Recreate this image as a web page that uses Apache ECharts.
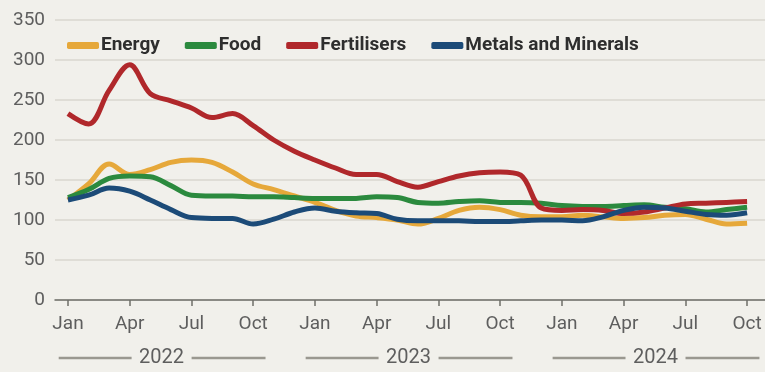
<!DOCTYPE html>
<html><head><meta charset="utf-8">
<script src="https://cdn.jsdelivr.net/npm/echarts@6/dist/echarts.min.js"></script>
<style>html,body{margin:0;padding:0;background:#f1f0eb}#c{width:765px;height:372px}</style>
</head><body><div id="c"></div>
<script>
// Months from Jan 2022 (index 0) to Oct 2024 (index 33)
const monthIndex = Array.from({length: 34}, (_, i) => i);
const tickMonths = [0,3,6,9,12,15,18,21,24,27,30,33];
const tickLabels = ['Jan','Apr','Jul','Oct','Jan','Apr','Jul','Oct','Jan','Apr','Jul','Oct'];
const years = ['2022','2023','2024'];
const yearStartMonth = [0,12,24];

const energy = [125,145,170,157,163,172,175,172,160,145,138,130,
                122,112,105,103,100,95,102,112,116,113,106,104,
                104,106,104,102,103,106,107,101,95,96];
const food = [128,138,152,155,154,143,131,130,130,129,129,128,
              127,127,127,129,128,122,121,123,124,122,122,121,
              118,117,117,118,119,116,114,110,113,116];
const fertilisers = [233,220,262,294,258,249,240,228,233,218,200,186,
                     175,165,157,157,148,141,148,155,159,160,156,115,
                     112,113,112,108,110,115,120,121,122,123];
const metals = [125,131,140,136,125,113,103,102,102,95,101,110,
                115,111,109,108,101,99,99,99,98,98,99,100,
                100,99,104,112,116,115,111,107,106,109];

const seriesNames = ['Energy','Food','Fertilisers','Metals and Minerals'];
const seriesData = [energy, food, fertilisers, metals];
const colors = ['#e6a83a','#2b8a3e','#b0282b','#1c4b78'];

const chart = echarts.init(document.getElementById('c'));
const font = 'Roboto, "Liberation Sans", sans-serif';
chart.setOption({
  backgroundColor: '#f1f0eb',
  animation: false,
  color: colors,
  grid: {left: 55, right: 0, top: 20, bottom: 72, containLabel: false},
  legend: {
    left: 62, top: 31, itemWidth: 32, itemHeight: 7, itemGap: 25,
    icon: 'roundRect',
    textStyle: {color: '#2e2e2e', fontSize: 19, fontFamily: font, fontWeight: 'bold', padding: [0,0,0,-3]},
    data: seriesNames
  },
  xAxis: {
    type: 'value', min: -0.63, max: 33.87,
    axisLine: {show: true, lineStyle: {color: '#6f6f6a', width: 1.5}},
    axisTick: {show: true, length: 6, customValues: tickMonths, lineStyle: {color: '#6f6f6a', width: 1.5}},
    axisLabel: {customValues: tickMonths, margin: 15, color: '#5e5e5e', fontSize: 19, fontFamily: font,
      formatter: v => tickLabels[tickMonths.indexOf(Math.round(v))] || ''},
    splitLine: {show: false}
  },
  yAxis: {
    type: 'value', min: 0, max: 350, interval: 50,
    axisLine: {show: false}, axisTick: {show: false},
    axisLabel: {margin: 10, color: '#5e5e5e', fontSize: 19, fontFamily: font},
    splitLine: {lineStyle: {color: '#d9d7cf', width: 1.5}}
  },
  series: seriesNames.map((n, k) => ({
    name: n, type: 'line', smooth: 0.35, symbol: 'none',
    lineStyle: {width: 5, color: colors[k]},
    data: seriesData[k].map((v, i) => [monthIndex[i], v])
  }))
});

// Year brackets under the axis
const y0 = 358;
const g = [];
years.forEach((yr, k) => {
  const s = yearStartMonth[k];
  const xl = chart.convertToPixel({xAxisIndex: 0}, s - 0.45);
  const xr = chart.convertToPixel({xAxisIndex: 0}, s + 9.6);
  const xc = chart.convertToPixel({xAxisIndex: 0}, s + 4.55);
  g.push({type: 'line', shape: {x1: xl, y1: y0, x2: xc - 30, y2: y0}, style: {stroke: '#9a9890', lineWidth: 2.5}});
  g.push({type: 'line', shape: {x1: xc + 30, y1: y0, x2: xr, y2: y0}, style: {stroke: '#9a9890', lineWidth: 2.5}});
  g.push({type: 'text', x: xc, y: y0, style: {text: yr, fill: '#5e5e5e', fontSize: 20, fontFamily: font, align: 'center', verticalAlign: 'middle'}});
});
chart.setOption({graphic: g});
</script></body></html>
